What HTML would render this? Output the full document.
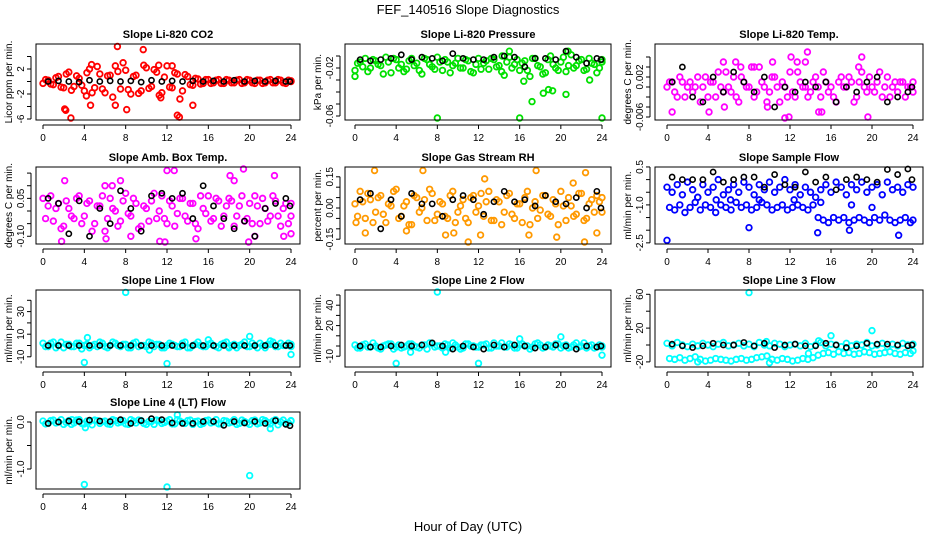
<!DOCTYPE html>
<html><head><meta charset="utf-8"><style>
html,body{margin:0;padding:0;background:#fff;}
svg{display:block;font-family:"Liberation Sans",Arial,sans-serif;}
</style></head><body>
<svg id="chart" width="936" height="540" viewBox="0 0 936 540" xmlns="http://www.w3.org/2000/svg">
<rect width="936" height="540" fill="#fff"/>
<text x="468" y="14" text-anchor="middle" font-size="13">FEF_140516  Slope Diagnostics</text>
<text x="468" y="531" text-anchor="middle" font-size="13">Hour of Day (UTC)</text>
</svg>
<script>
const hours = [0,0.5,1,1.5,2,2.5,3,3.5,4,4.5,5,5.5,6,6.5,7,7.5,8,8.5,9,9.5,10,10.5,11,11.5,12,12.5,13,13.5,14,14.5,15,15.5,16,16.5,17,17.5,18,18.5,19,19.5,20,20.5,21,21.5,22,22.5,23,23.5,24];
const blackHours = [0.5,1.5,2.5,3.5,4.5,5.5,6.5,7.5,8.5,9.5,10.5,11.5,12.5,13.5,14.5,15.5,16.5,17.5,18.5,19.5,20.5,21.5,22.5,23.5,23.9];
const xTicks = [0,4,8,12,16,20,24];

const co2A = [-0.3,0.2,-0.5,0.8,-1,1.5,-0.8,0.5,-1.5,2,-1,1.2,-1.8,1,2.5,-1.2,1.8,-2,1,-1.5,2.2,-0.8,1.5,-1.8,2.5,-1,1.2,-1.5,0.8,-0.6,0.4,-0.3,0.3,-0.2,0.3,-0.3,0.2,-0.2,0.3,-0.2,0.2,-0.3,0.2,-0.2,0.3,-0.2,0.2,-0.3,0.1];
const co2B = [0.3,-0.4,0.6,-0.9,1.2,-1.4,0.9,-0.6,1.4,-1.8,2.4,-1.2,0.9,-2.5,1.6,3,-1.3,0.8,-1.9,2.6,-1.1,1.9,-2.2,0.7,-0.9,1.4,-2.8,1.1,-0.5,0.5,-0.4,0.3,-0.3,0.2,-0.3,0.3,-0.2,0.2,-0.3,0.3,-0.2,0.2,-0.3,0.2,-0.2,0.3,-0.2,0.2,0];
const co2Out = [[7.2,5.6],[9.7,5.1],[2.1,-4.4],[2.2,-4.6],[2.7,-6],[4.6,-3.8],[8.1,-4.5],[13,-5.4],[13.2,-5.7],[14.5,-3.8],[4.7,2.7],[11.2,2.6],[12.5,2.5],[4.2,-2.3],[11.4,-2.6],[7,-3.8]];
const co2Black = [0,0.1,0,-0.1,0.2,0,0.1,0,0.1,-0.1,0.2,0,0.1,0,0.1,0,0.1,0,0.2,0,0.1,0,0.1,0,0];

const presA = [-0.022,-0.015,-0.012,-0.02,-0.014,-0.018,-0.011,-0.024,-0.013,-0.017,-0.021,-0.012,-0.016,-0.025,-0.013,-0.019,-0.011,-0.022,-0.015,-0.018,-0.012,-0.02,-0.014,-0.024,-0.012,-0.016,-0.021,-0.013,-0.018,-0.026,-0.011,-0.017,-0.022,-0.014,-0.027,-0.012,-0.019,-0.024,-0.01,-0.02,-0.015,-0.023,-0.009,-0.018,-0.013,-0.021,-0.016,-0.024,-0.015];
const presB = [-0.016,-0.019,-0.023,-0.013,-0.017,-0.025,-0.015,-0.012,-0.02,-0.023,-0.014,-0.018,-0.022,-0.012,-0.017,-0.021,-0.015,-0.013,-0.024,-0.016,-0.02,-0.013,-0.023,-0.017,-0.021,-0.014,-0.012,-0.019,-0.023,-0.015,-0.02,-0.013,-0.016,-0.022,-0.012,-0.018,-0.025,-0.013,-0.017,-0.022,-0.011,-0.018,-0.02,-0.014,-0.022,-0.012,-0.017,-0.02,-0.013];
const presOut = [[0,-0.027],[8,-0.066],[16,-0.065],[24,-0.062],[20.5,-0.042],[17.2,-0.048],[18.3,-0.041],[18.8,-0.038],[19.2,-0.039],[15,-0.006],[20.7,-0.006],[14.3,-0.01],[22.8,-0.03],[16.4,-0.031]];
const presBlack = [-0.013,-0.014,-0.013,-0.012,-0.009,-0.013,-0.011,-0.012,-0.014,-0.008,-0.012,-0.013,-0.013,-0.011,-0.01,-0.011,-0.019,-0.012,-0.012,-0.013,-0.006,-0.011,-0.016,-0.012,-0.013];

const ltA = [0,0.001,-0.002,0.001,0,-0.001,0.002,0,-0.002,0.001,0.003,-0.001,0,0.002,-0.003,0.001,0,-0.002,0.004,0,-0.001,0.002,-0.003,0,0.003,-0.002,0.001,0,-0.001,0.002,-0.002,0.001,0,-0.003,0.002,0,0.001,-0.002,0.003,-0.001,0,0.001,-0.002,0.002,0,-0.001,0.001,0,-0.001];
const ltB = [0.001,-0.001,0.002,-0.002,0.001,0,-0.003,0.002,0.001,-0.002,0,0.003,-0.001,-0.002,0.002,0,0.004,-0.001,0.001,-0.003,0.002,0,0.001,-0.002,-0.001,0.003,0,-0.002,0.001,0,0.003,-0.001,-0.002,0.001,0,0.002,-0.003,0.001,0,0.002,-0.001,0.003,0,-0.002,0.001,0.001,-0.002,0,0.001];
const ltOut = [[0.5,-0.005],[4.1,-0.005],[5.5,0.005],[6.7,0.005],[7.2,0.004],[8.5,0.004],[10.3,0.005],[11.5,-0.007],[12.1,0.006],[12.7,0.005],[13.7,0.007],[13.5,0.005],[15.1,-0.005],[19,0.006],[19.6,-0.006],[11.9,-0.006],[18.7,0.004],[9.8,-0.004],[5.6,-0.004],[14.8,-0.005]];
const ltBlack = [0.001,0.004,-0.002,-0.003,0.002,-0.001,0.003,0.001,-0.001,0.002,-0.004,0,-0.001,0.001,0,0.001,-0.003,0,-0.001,0.001,0.002,-0.003,-0.002,-0.001,0];

const abA = [0.05,0.02,-0.04,0.03,-0.06,0.01,-0.03,0.06,-0.02,0.04,-0.05,0.02,-0.08,0.05,0,-0.04,0.07,-0.02,0.03,-0.06,0.01,0.04,-0.03,0.06,-0.05,0.02,-0.01,0.05,-0.04,0.03,-0.07,0.01,0.06,-0.03,0.04,-0.02,0.05,-0.06,0.02,-0.04,0.03,0.06,-0.05,0.01,-0.02,0.04,-0.06,0.03,-0.02];
const abB = [-0.03,0.06,0.01,-0.07,0.04,-0.02,0.05,-0.05,0.03,-0.08,0.02,0.06,-0.03,0.01,-0.06,0.04,-0.01,0.05,-0.07,0.02,-0.04,0.07,0,-0.03,0.04,-0.06,0.05,-0.02,0.03,-0.05,0.06,-0.01,-0.04,0.05,-0.06,0.02,0.04,-0.02,0.06,-0.03,-0.05,0.02,0.05,-0.04,0.06,-0.02,0.01,-0.05,0.03];
const abOut = [[2.1,0.12],[1.8,-0.12],[7.5,0.12],[6,0.1],[6.7,0.1],[11.3,-0.12],[11.8,-0.13],[12,0.16],[12.7,0.16],[14.8,-0.11],[18.1,0.14],[18.5,0.12],[19.4,0.2],[19.9,-0.13],[20.5,-0.1],[22.4,0.14],[23.3,-0.1],[24,-0.09],[8.5,-0.1],[6.1,-0.11]];
const abBlack = [0.05,0.03,-0.09,0.04,-0.1,0.01,-0.05,0.08,0.01,-0.08,0.06,0.07,0.05,0.07,-0.03,0.1,0.02,-0.03,-0.07,-0.04,-0.1,0.01,0.03,0.05,0.02];

const rhA = [0.02,0.08,-0.05,0.04,-0.02,0.06,-0.07,0.01,0.09,-0.04,0.03,-0.08,0.05,0,-0.06,0.07,-0.03,0.02,-0.05,0.08,-0.02,0.04,-0.07,0.06,0.01,-0.04,0.08,-0.06,0.03,-0.02,0.07,-0.05,0.02,0.05,-0.08,0.03,-0.01,0.06,-0.04,0.02,0.08,-0.06,0.01,-0.03,0.07,-0.05,0.04,0.06,-0.02];
const rhB = [-0.04,0.03,0.07,-0.07,0.05,-0.03,0.02,0.08,-0.05,0.01,-0.08,0.06,-0.02,0.04,0.09,-0.06,0.03,-0.04,0.06,-0.07,0.01,-0.05,0.05,-0.02,0.07,0.03,-0.06,0.04,-0.08,0.06,-0.03,0.02,-0.07,0.08,0,-0.05,0.06,-0.03,0.04,-0.08,0.01,0.05,-0.04,0.07,-0.06,0.02,-0.02,0.03,0.05];
const rhOut = [[1.9,0.18],[1,-0.12],[6.6,0.18],[8.8,-0.13],[11,-0.18],[12.6,0.14],[12.2,-0.13],[17.6,0.18],[16.9,-0.13],[19.6,-0.14],[22.3,-0.18],[22.4,0.17],[21.2,0.12],[0.1,-0.07],[23.5,-0.12],[5,-0.11],[9.6,-0.12]];
const rhBlack = [0.04,0.07,-0.1,0.04,-0.04,0.07,0.02,0.02,-0.04,0.04,0.06,0.04,-0.03,0.03,0.08,0.03,0.04,0.01,0.06,0.03,0.02,0.05,0,0.08,0];

const sfA = [-0.3,-0.5,-0.2,-0.6,-0.1,-0.4,-0.7,-0.2,-0.5,-0.3,0,-0.6,-0.4,-0.2,-0.5,-0.1,-0.3,-0.6,-0.2,-0.4,-0.1,-0.5,-0.3,0,-0.4,-0.2,-0.6,-0.3,-0.5,-0.7,-0.4,-0.2,-0.5,-0.1,-0.3,-0.6,-0.2,-0.4,-0.1,-0.5,-0.3,-0.2,-0.6,-0.1,-0.4,-0.3,-0.5,-0.2,-0.3];
const sfB = [-1.1,-1.2,-1.0,-1.3,-1.1,-0.9,-1.2,-1.0,-1.1,-1.3,-1.0,-1.1,-1.2,-0.9,-1.1,-1.0,-1.2,-1.1,-0.9,-1.0,-1.2,-1.1,-1.0,-1.2,-1.1,-1.0,-1.1,-1.2,-1.0,-1.5,-1.6,-1.7,-1.5,-1.6,-1.5,-1.7,-1.6,-1.5,-1.6,-1.7,-1.5,-1.6,-1.4,-1.6,-1.7,-1.6,-1.5,-1.7,-1.6];
const sfOut = [[0,-2.4],[8,-1.9],[14.7,-2.1],[17.8,-2.0],[22.6,-2.2],[3,-0.7],[4.8,-0.8],[9,-0.8],[15,-0.9],[18,-1.0],[20,-1.1],[12.4,-0.8],[6.2,-0.8]];
const sfBlack = [0.1,0,0,0,0.3,-0.1,0,0.1,0.1,-0.3,0.2,-0.2,-0.3,0.3,-0.1,0.1,-0.4,0,0.1,0,-0.1,0.4,0.2,0.45,0];

const l1A = [2,-1,3,0,-2,1,-1,2,0,-2,1,3,-1,0,2,-1,1,-2,3,0,-1,2,1,-2,0,1,-1,2,-2,0,3,-1,1,0,-2,2,-1,1,0,3,-1,0,2,-2,1,-1,2,0,1];
const l1B = [-1,2,-2,3,1,-1,2,-3,1,0,-1,2,-2,3,0,1,-2,2,-1,0,3,-1,1,-2,2,0,-1,3,-2,1,0,-1,2,-1,1,3,0,-2,1,-1,2,-2,0,1,3,-1,0,2,-1];
const l1Out = [[8,47],[4,-15],[12,-16],[20,8],[4.3,7],[24,-8],[10.3,-4],[16,5],[22,4],[18,-2]];
const l1Black = [0,0,0,0,0,0,0,0,0,0,0,0,0,0,0,0,0,0,0,0,0,0,0,0,0];

const l2A = [1,-2,2,-1,0,-3,1,2,-1,-2,0,2,-1,1,-3,2,0,-2,1,3,-1,-2,2,0,-1,1,-2,3,0,-1,2,-2,1,0,-3,2,1,-1,0,2,-2,1,-1,3,0,-2,1,-1,0];
const l2B = [-2,1,-1,3,-2,0,2,-3,1,-1,2,0,-2,1,3,-1,0,2,-2,1,-3,2,0,-1,1,2,-2,0,3,-1,1,-2,2,0,-1,3,-2,1,-1,2,0,-2,1,-1,3,0,-2,1,-1];
const l2Out = [[8,53],[4,-17],[12,-17],[16,7],[20,9],[24,-9],[8.8,-6],[5.4,-6]];
const l2Black = [0,-1,-1,0,1,0,1,3,0,-3,0,-1,-3,1,-1,1,0,-2,-1,1,0,-3,0,-1,0];

const l3A = [2,-1,3,0,-2,1,-1,2,0,-2,1,3,-1,0,2,-1,1,-2,3,0,-1,2,1,-2,0,1,-1,2,-2,0,3,-1,1,0,-2,2,-1,1,0,3,-1,0,2,-2,1,-1,2,0,1];
const l3B = [-16,-17,-15,-18,-16,-14,-17,-19,-18,-16,-17,-18,-19,-17,-16,-18,-17,-15,-14,-13,-17,-18,-16,-17,-19,-18,-16,-17,-15,-12,-10,-9,-11,-8,-10,-9,-11,-10,-8,-9,-11,-10,-9,-8,-10,-11,-9,-10,-7];
const l3Out = [[8,62],[16,11],[20,17],[9.7,4],[14.8,5],[13.8,-10],[3,-20],[10,-21]];
const l3Black = [1,-1,-3,-1,2,0,0,3,-1,2,-3,0,1,-1,-1,2,0,-3,-1,2,1,1,0,-1,0];

const l4A = [0.02,-0.03,0.04,0,-0.05,0.03,-0.02,0.05,-0.04,0.01,0.04,-0.03,0.02,-0.05,0.03,0,-0.04,0.05,-0.02,0.03,-0.05,0.01,0.04,-0.03,0.02,-0.04,0.05,-0.01,0.03,-0.05,0.02,-0.03,0.04,0,-0.04,0.03,-0.02,0.05,-0.03,0.01,-0.05,0.04,-0.02,0.03,-0.04,0.05,0,-0.03,0.02];
const l4B = [-0.04,0.03,-0.02,0.05,-0.01,-0.05,0.04,-0.03,0.02,-0.06,0.03,0.01,-0.04,0.05,-0.02,0.03,-0.05,0.02,0.04,-0.03,0.01,-0.05,0.03,-0.01,0.05,-0.04,0.02,-0.03,0.04,0.01,-0.05,0.03,-0.02,0.05,-0.04,0.02,0,-0.05,0.04,-0.02,0.03,-0.04,0.05,-0.01,0.02,-0.06,0.04,-0.02,0.03];
const l4Out = [[4,-1.33],[12,-1.42],[20,-1.14],[13,0.15],[22,-0.14],[4.1,-0.12],[2.8,0.05]];
const l4Black = [-0.03,0,0.02,0.01,0.04,0.02,0.01,0.05,-0.03,0.03,0.07,0.05,-0.02,-0.03,-0.03,0.01,0.01,-0.07,0.01,-0.02,0.01,-0.03,0.03,-0.05,-0.08];

const tk1 = [-6,-4,-2,0,2,4]; const tl1 = ["-6","","-2","","2",""];
const tk2 = [-0.06,-0.05,-0.04,-0.03,-0.02,-0.01]; const tl2 = ["-0.06","","","","-0.02",""];
const tk3 = [-0.006,-0.004,-0.002,0,0.002,0.004,0.006]; const tl3 = ["-0.006","","","","0.002","",""];
const tk4 = [-0.10,-0.05,0,0.05,0.10,0.15]; const tl4 = ["-0.10","","","0.05","",""];
const tk5 = [-0.15,-0.10,-0.05,0,0.05,0.10,0.15]; const tl5 = ["-0.15","","","0.00","","","0.15"];
const tk6 = [-2.5,-2,-1.5,-1,-0.5,0,0.5]; const tl6 = ["-2.5","","","-1.0","","","0.5"];
const tk7 = [-10,0,10,20,30,40]; const tl7 = ["-10","","10","","30",""];
const tk8 = [-10,0,10,20,30,40,50]; const tl8 = ["-10","","","20","","40",""];
const tk9 = [-20,0,20,40,60]; const tl9 = ["-20","","20","","60"];
const tk10 = [-1.0,-0.5,0.0]; const tl10 = ["-1.0","","0.0"];

const NS = "http://www.w3.org/2000/svg";
const svg = document.getElementById('chart');
const cols = [{bx0:36,bx1:300,x0:43,x24:291},{bx0:345,bx1:611,x0:355,x24:602},{bx0:655,bx1:923,x0:667,x24:913}];
const rows = [{by0:44,by1:120},{by0:167,by1:244},{by0:290,by1:367},{by0:412,by1:489}];
function mk(tag, attrs, parent){const e=document.createElementNS(NS,tag);for(const k in attrs)e.setAttribute(k,attrs[k]);(parent||svg).appendChild(e);return e;}

const panels = [
 {title:"Slope Li-820 CO2",yl:"Licor ppm per min.",c:0,r:0,zero:81.5,ppu:6.25,col:"#ff0000",A:co2A,B:co2B,O:co2Out,K:co2Black,tk:tk1,tl:tl1},
 {title:"Slope Li-820 Pressure",yl:"kPa per min.",c:1,r:0,zero:44,ppu:1200,col:"#00e000",A:presA,B:presB,O:presOut,K:presBlack,tk:tk2,tl:tl2},
 {title:"Slope Li-820 Temp.",yl:"degrees C per min.",c:2,r:0,zero:87,ppu:5000,col:"#ff00ff",A:ltA,B:ltB,O:ltOut,K:ltBlack,tk:tk3,tl:tl3},
 {title:"Slope Amb. Box Temp.",yl:"degrees C per min.",c:0,r:1,zero:211,ppu:252.7,col:"#ff00ff",A:abA,B:abB,O:abOut,K:abBlack,tk:tk4,tl:tl4},
 {title:"Slope Gas Stream RH",yl:"percent per min.",c:1,r:1,zero:208,ppu:208,col:"#ff9900",A:rhA,B:rhB,O:rhOut,K:rhBlack,tk:tk5,tl:tl5},
 {title:"Slope Sample Flow",yl:"ml/min per min.",c:2,r:1,zero:179.6,ppu:25.3,col:"#0000ff",A:sfA,B:sfB,O:sfOut,K:sfBlack,tk:tk6,tl:tl6},
 {title:"Slope Line 1 Flow",yl:"ml/min per min.",c:0,r:2,zero:345.5,ppu:1.13,col:"#00ffff",A:l1A,B:l1B,O:l1Out,K:l1Black,tk:tk7,tl:tl7},
 {title:"Slope Line 2 Flow",yl:"ml/min per min.",c:1,r:2,zero:346,ppu:1.02,col:"#00ffff",A:l2A,B:l2B,O:l2Out,K:l2Black,tk:tk8,tl:tl8},
 {title:"Slope Line 3 Flow",yl:"ml/min per min.",c:2,r:2,zero:345,ppu:0.845,col:"#00ffff",A:l3A,B:l3B,O:l3Out,K:l3Black,tk:tk9,tl:tl9},
 {title:"Slope Line 4 (LT) Flow",yl:"ml/min per min.",c:0,r:3,zero:422,ppu:47,col:"#00ffff",A:l4A,B:l4B,O:l4Out,K:l4Black,tk:tk10,tl:tl10}
];

panels.forEach((p,i)=>{
  const C=cols[p.c], R=rows[p.r];
  const g=mk('g',{});
  
  
  const xs=h=>C.x0+(C.x24-C.x0)*h/24;
  const ys=v=>p.zero-v*p.ppu;
  const t=mk('text',{x:(C.bx0+C.bx1)/2,y:R.by0-6,'text-anchor':'middle','font-size':11,'font-weight':'bold'},g);
  t.textContent=p.title;
  
  
  const yl=mk('text',{x:0,y:0,'text-anchor':'middle','font-size':10,transform:`translate(${C.bx0-24},${(R.by0+R.by1)/2}) rotate(-90)`},g);
  yl.textContent=p.yl;
  
  
  const pts=mk('g',{fill:'none',stroke:p.col,'stroke-width':1.8},g);
  
  
  const clipY=v=>Math.max(R.by0+2,Math.min(R.by1-2,ys(v)));
  p.A.forEach((v,j)=>{const c=mk('circle',{cx:xs(hours[j]),cy:clipY(v),r:2.8},pts);});
  p.B.forEach((v,j)=>{const c=mk('circle',{cx:xs(Math.min(24,hours[j]+0.25)),cy:clipY(v),r:2.8},pts);});
  p.O.forEach(o=>{const c=mk('circle',{cx:xs(o[0]),cy:clipY(o[1]),r:2.8},pts);});
  const bk=mk('g',{fill:'none',stroke:'#000','stroke-width':1.6},g);
  
  
  p.K.forEach((v,j)=>{const c=mk('circle',{cx:xs(blackHours[j]),cy:clipY(v),r:2.6},bk);});
  const bx=mk('rect',{x:C.bx0,y:R.by0,width:C.bx1-C.bx0,height:R.by1-R.by0,fill:'none',stroke:'#000','stroke-width':1},g);
  
  
  const xa=mk('g',{stroke:'#000','stroke-width':1},g);
  
  
  mk('line',{x1:xs(0),x2:xs(24),y1:R.by1+5,y2:R.by1+5},xa);
  xTicks.forEach(h=>{
    mk('line',{x1:xs(h),x2:xs(h),y1:R.by1+5,y2:R.by1+9},xa);
    const tx=mk('text',{x:xs(h),y:R.by1+21,'text-anchor':'middle','font-size':10,stroke:'none',fill:'#000'},xa);
    tx.textContent=h;
    
    
  });
  const ya=mk('g',{stroke:'#000','stroke-width':1},g);
  
  
  const yv=p.tk.map(ys);
  mk('line',{x1:C.bx0-5,x2:C.bx0-5,y1:Math.min(...yv),y2:Math.max(...yv)},ya);
  p.tk.forEach((v,j)=>{
    mk('line',{x1:C.bx0-9,x2:C.bx0-5,y1:ys(v),y2:ys(v)},ya);
    if(p.tl[j]){
      const ty=mk('text',{x:0,y:0,'text-anchor':'middle','font-size':10,stroke:'none',fill:'#000',transform:`translate(${C.bx0-12},${ys(v)}) rotate(-90)`},ya);
      ty.textContent=p.tl[j];
      
      
    }
  });
});
</script>
</body></html>
